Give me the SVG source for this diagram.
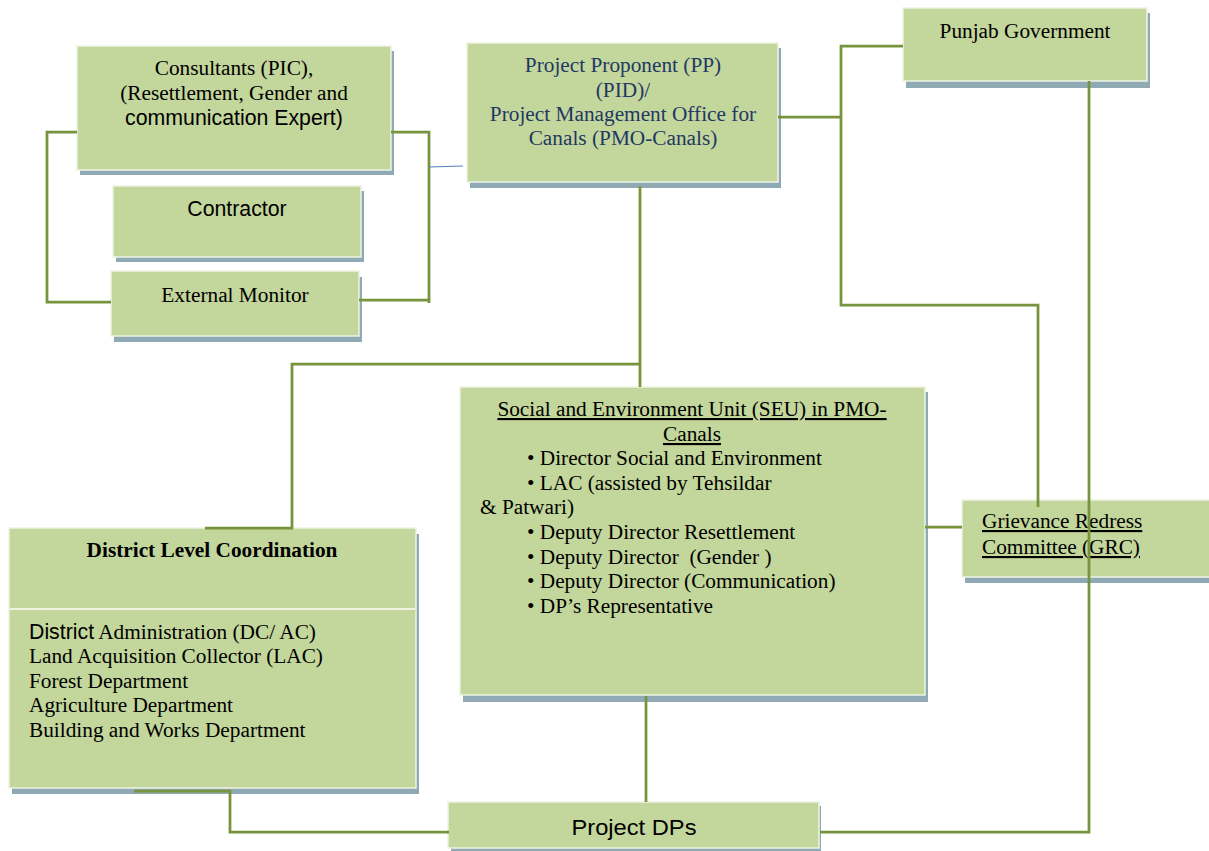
<svg xmlns="http://www.w3.org/2000/svg" width="1209" height="851" viewBox="0 0 1209 851">
<defs>
<style>
.box{fill:#C3D69B;stroke:#EEF3E2;stroke-width:1.5}
.shd{fill:#8FAAB5}
.serif{font-family:"Liberation Serif","Times New Roman",serif;font-size:21.3px;fill:#000}
.sans{font-family:"Liberation Sans",Arial,sans-serif;font-size:21.3px;fill:#000}
.navy{fill:#1F3864}
.ul{text-decoration:underline}
.conn{fill:none;stroke:#77933C;stroke-width:2.75}
</style>
</defs>
<rect width="1209" height="851" fill="#fff"/>

<g id="consultants">
<rect class="shd" x="80" y="51" width="314" height="124"/>
<rect class="box" x="77" y="46" width="314" height="124"/>
<text class="serif" x="234" y="75" text-anchor="middle">Consultants (PIC),</text>
<text class="serif" x="234" y="100" text-anchor="middle">(Resettlement, Gender and</text>
<text class="sans" x="234" y="125" text-anchor="middle">communication Expert)</text>
</g>

<g id="contractor">
<rect class="shd" x="116" y="191" width="248" height="71"/>
<rect class="box" x="113" y="186" width="248" height="71"/>
<text class="sans" x="237" y="216" text-anchor="middle">Contractor</text>
</g>

<g id="external-monitor">
<rect class="shd" x="114" y="277" width="248" height="65"/>
<rect class="box" x="111" y="271" width="248" height="65"/>
<text class="serif" x="235" y="302" text-anchor="middle">External Monitor</text>
</g>

<g id="project-proponent">
<rect class="shd" x="470" y="48" width="311" height="140"/>
<rect class="box" x="467" y="43" width="311" height="139"/>
<text class="serif navy" x="623" y="72" text-anchor="middle">Project Proponent (PP)</text>
<text class="serif navy" x="623" y="97" text-anchor="middle">(PID)/</text>
<text class="serif navy" x="623" y="121" text-anchor="middle">Project Management Office for</text>
<text class="serif navy" x="623" y="145" text-anchor="middle">Canals (PMO-Canals)</text>
</g>

<g id="punjab-government">
<rect class="shd" x="906" y="13" width="244" height="75"/>
<rect class="box" x="903" y="8" width="244" height="73"/>
<text class="serif" x="1025" y="38" text-anchor="middle">Punjab Government</text>
</g>

<g id="seu">
<rect class="shd" x="463" y="392" width="465" height="310"/>
<rect class="box" x="460" y="387" width="465" height="308"/>
<text class="serif ul" x="692" y="416" text-anchor="middle">Social and Environment Unit (SEU) in PMO-</text>
<text class="serif ul" x="692" y="441" text-anchor="middle">Canals</text>
<text class="serif" x="527" y="465">• Director Social and Environment</text>
<text class="serif" x="527" y="490">• LAC (assisted by Tehsildar</text>
<text class="serif" x="480" y="514">&amp; Patwari)</text>
<text class="serif" x="527" y="539">• Deputy Director Resettlement</text>
<text class="serif" x="527" y="564" xml:space="preserve">• Deputy Director  (Gender )</text>
<text class="serif" x="527" y="588">• Deputy Director (Communication)</text>
<text class="serif" x="527" y="613">• DP’s Representative</text>
</g>

<g id="grc">
<rect class="shd" x="965" y="506" width="250" height="77"/>
<rect class="box" x="962" y="500" width="250" height="77"/>
<text class="serif ul" x="982" y="528">Grievance Redress</text>
<text class="serif ul" x="982" y="554">Committee (GRC)</text>
</g>

<g id="district-level-coordination">
<rect class="shd" x="12" y="534" width="407" height="260"/>
<rect class="box" x="9" y="528" width="407" height="260"/>
<line x1="10" y1="609" x2="415" y2="609" stroke="#EEF3E2" stroke-width="2"/>
<text class="serif" x="212" y="557" text-anchor="middle" font-weight="bold">District Level Coordination</text>
<text class="serif" x="29" y="639"><tspan class="sans">District</tspan> Administration (DC/ AC)</text>
<text class="serif" x="29" y="663">Land Acquisition Collector (LAC)</text>
<text class="serif" x="29" y="688">Forest Department</text>
<text class="serif" x="29" y="712">Agriculture Department</text>
<text class="serif" x="29" y="737">Building and Works Department</text>
</g>

<g id="project-dps">
<rect class="shd" x="451" y="806" width="370" height="45"/>
<rect class="box" x="448" y="802" width="371" height="46"/>
<text class="sans" x="634" y="835" text-anchor="middle" font-size="28" textLength="125" lengthAdjust="spacingAndGlyphs">Project DPs</text>
</g>

<g id="connectors">
<path class="conn" d="M77,132 H47 V302 H111"/>
<path class="conn" d="M391,132 H429 V303"/>
<path class="conn" d="M359,300 H429"/>
<path d="M429,167 L463,166" fill="none" stroke="#4F81BD" stroke-width="1.2"/>
<path class="conn" d="M778,117 H841"/>
<path class="conn" d="M903,46 H841 V305 H1038 V507"/>
<path class="conn" d="M1089,81 V832 H820"/>
<path class="conn" d="M640,186 V387"/>
<path class="conn" d="M640,364 H292 V528 H205"/>
<path class="conn" d="M134,791 H230 V832 H449"/>
<path class="conn" d="M646,696 V802"/>
<path class="conn" d="M925,527 H962"/>
</g>
</svg>
